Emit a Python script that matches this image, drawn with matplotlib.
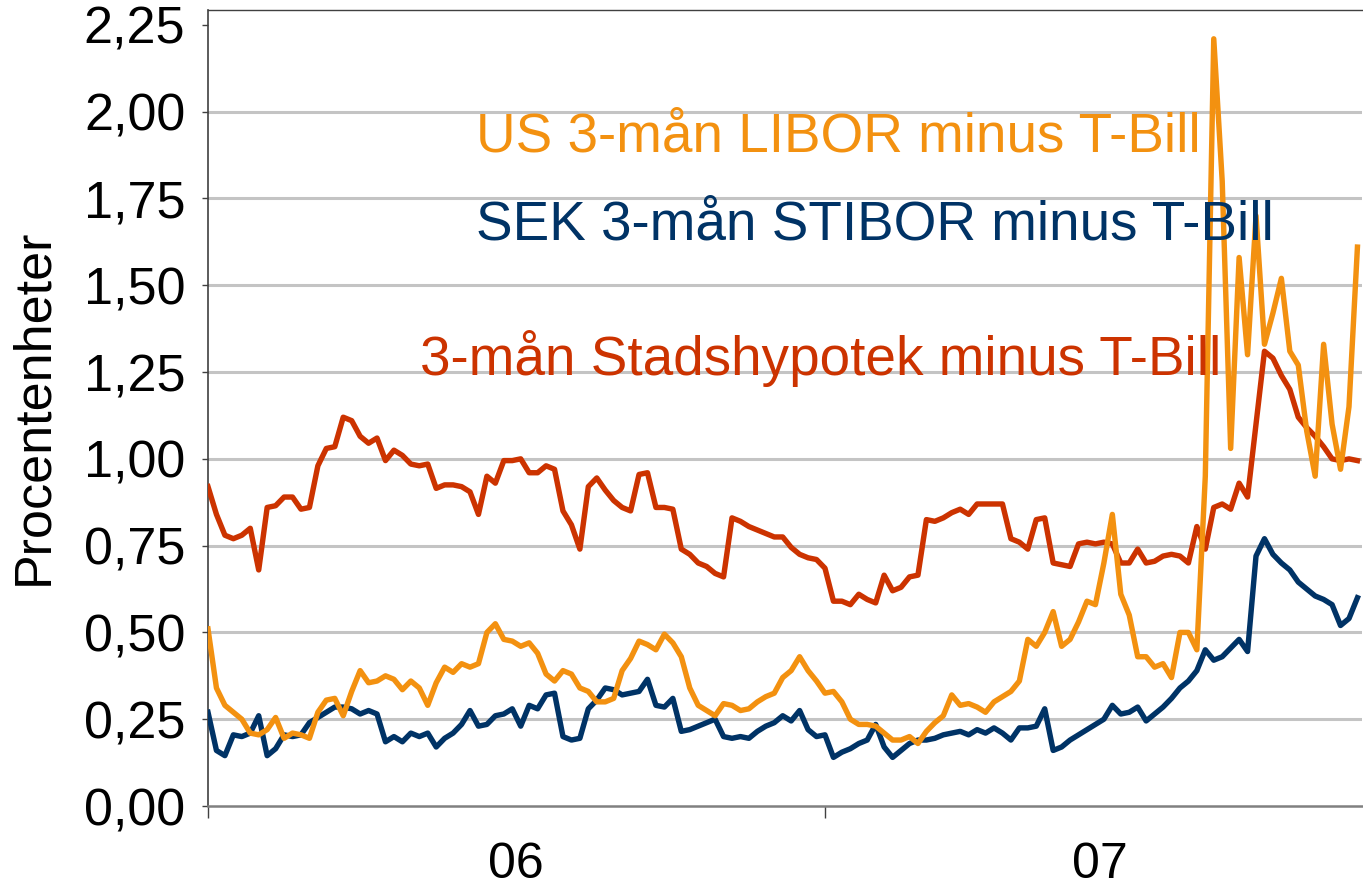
import numpy as np
import pandas as pd
import matplotlib
matplotlib.use('Agg')
import matplotlib.pyplot as plt
import matplotlib.dates as mdates

plt.rcParams['font.family'] = ['Liberation Sans', 'DejaVu Sans']

# spreads in procentenheter, one value every 5 days from 2006-01-02
stadshypotek = [
    0.92, 0.84, 0.78, 0.77, 0.78, 0.80, 0.68, 0.86, 0.865, 0.89,
    0.89, 0.855, 0.86, 0.98, 1.03, 1.035, 1.12, 1.11, 1.065, 1.045,
    1.06, 0.995, 1.025, 1.01, 0.985, 0.98, 0.985, 0.915, 0.925, 0.925,
    0.92, 0.905, 0.84, 0.95, 0.93, 0.995, 0.995, 1.0, 0.96, 0.96,
    0.98, 0.97, 0.85, 0.81, 0.74, 0.92, 0.945, 0.91, 0.88, 0.86,
    0.85, 0.955, 0.96, 0.86, 0.86, 0.855, 0.74, 0.725, 0.70, 0.69,
    0.67, 0.66, 0.83, 0.82, 0.805, 0.795, 0.785, 0.775, 0.775, 0.745,
    0.725, 0.715, 0.71, 0.685, 0.59, 0.59, 0.58, 0.61, 0.595, 0.585,
    0.665, 0.62, 0.63, 0.66, 0.665, 0.825, 0.82, 0.83, 0.845, 0.855,
    0.84, 0.87, 0.87, 0.87, 0.87, 0.77, 0.76, 0.74, 0.825, 0.83,
    0.70, 0.695, 0.69, 0.755, 0.76, 0.755, 0.76, 0.755, 0.70, 0.70,
    0.74, 0.70, 0.705, 0.72, 0.725, 0.72, 0.70, 0.805, 0.74, 0.86,
    0.87, 0.855, 0.93, 0.89, 1.10, 1.31, 1.29, 1.24, 1.20, 1.12,
    1.09, 1.065, 1.035, 1.00, 0.995, 1.0, 0.995,
]
stibor = [
    0.27, 0.16, 0.145, 0.205, 0.20, 0.21, 0.26, 0.145, 0.165, 0.205,
    0.20, 0.205, 0.24, 0.255, 0.27, 0.285, 0.285, 0.28, 0.265, 0.275,
    0.265, 0.185, 0.20, 0.185, 0.21, 0.20, 0.21, 0.17, 0.195, 0.21,
    0.235, 0.275, 0.23, 0.235, 0.26, 0.265, 0.28, 0.23, 0.29, 0.28,
    0.32, 0.325, 0.20, 0.19, 0.195, 0.28, 0.305, 0.34, 0.335, 0.32,
    0.325, 0.33, 0.365, 0.29, 0.285, 0.31, 0.215, 0.22, 0.23, 0.24,
    0.25, 0.20, 0.195, 0.20, 0.195, 0.215, 0.23, 0.24, 0.26, 0.245,
    0.275, 0.22, 0.20, 0.205, 0.14, 0.155, 0.165, 0.18, 0.19, 0.235,
    0.17, 0.14, 0.16, 0.18, 0.19, 0.19, 0.195, 0.205, 0.21, 0.215,
    0.205, 0.22, 0.21, 0.225, 0.21, 0.19, 0.225, 0.225, 0.23, 0.28,
    0.16, 0.17, 0.19, 0.205, 0.22, 0.235, 0.25, 0.29, 0.265, 0.27,
    0.285, 0.245, 0.265, 0.285, 0.31, 0.34, 0.36, 0.39, 0.45, 0.42,
    0.43, 0.455, 0.48, 0.445, 0.72, 0.77, 0.725, 0.70, 0.68, 0.645,
    0.625, 0.605, 0.595, 0.58, 0.52, 0.54, 0.60,
]
libor = [
    0.51, 0.34, 0.29, 0.27, 0.25, 0.21, 0.205, 0.22, 0.255, 0.195,
    0.21, 0.205, 0.195, 0.27, 0.305, 0.31, 0.26, 0.33, 0.39, 0.355,
    0.36, 0.375, 0.365, 0.335, 0.36, 0.34, 0.29, 0.355, 0.40, 0.385,
    0.41, 0.40, 0.41, 0.50, 0.525, 0.48, 0.475, 0.46, 0.47, 0.44,
    0.38, 0.36, 0.39, 0.38, 0.34, 0.33, 0.30, 0.30, 0.31, 0.39,
    0.425, 0.475, 0.465, 0.45, 0.495, 0.47, 0.43, 0.34, 0.29, 0.275,
    0.26, 0.295, 0.29, 0.275, 0.28, 0.30, 0.315, 0.325, 0.37, 0.39,
    0.43, 0.39, 0.36, 0.325, 0.33, 0.30, 0.25, 0.235, 0.235, 0.23,
    0.21, 0.19, 0.19, 0.20, 0.18, 0.215, 0.24, 0.26, 0.32, 0.29,
    0.295, 0.285, 0.27, 0.30, 0.315, 0.33, 0.36, 0.48, 0.46, 0.50,
    0.56, 0.46, 0.48, 0.53, 0.59, 0.58, 0.70, 0.84, 0.61, 0.55,
    0.43, 0.43, 0.40, 0.41, 0.37, 0.50, 0.50, 0.45, 0.95, 2.21,
    1.80, 1.03, 1.58, 1.30, 1.70, 1.33, 1.42, 1.52, 1.31, 1.27,
    1.08, 0.95, 1.33, 1.10, 0.97, 1.15, 1.61,
]
year_labels = ['06', '07']

ORANGE = '#F39110'
NAVY = '#003366'
RED = '#CC3300'

start = pd.Timestamp('2006-01-02')
dates = pd.date_range(start, periods=len(libor), freq='5D')

fig = plt.figure(figsize=(13.63, 8.88), dpi=100)
ax = fig.add_axes([208 / 1363, 82 / 888, (1362 - 208) / 1363, (806 - 10) / 888])

ax.plot(dates, stadshypotek, color=RED, lw=3.9, zorder=3)
ax.plot(dates, stibor, color=NAVY, lw=3.9, zorder=4)
ax.plot(dates, libor, color=ORANGE, lw=3.9, zorder=5)

ax.set_ylim(0, 2.293)
ax.set_xlim(start, start + pd.Timedelta(days=682.7))

yticks = np.arange(0, 2.26, 0.25)
ax.set_yticks(yticks)
ax.set_yticklabels([f'{v:.2f}'.replace('.', ',') for v in yticks])
for y in yticks[1:-1]:
    ax.axhline(y, color='#C4C4C4', lw=2.2, zorder=1)

x0 = mdates.date2num(start)
ax.set_xticks([x0, x0 + 365])
ax.set_xticklabels(['', ''])
ax.tick_params(axis='x', which='major', direction='out', length=8.6, width=1.0, color='#404040')
ax.tick_params(axis='y', direction='out', length=4.3, width=1.0, color='#404040', pad=12, labelsize=37.5)

# year labels sit in the middle of each year
for lab, day in zip(year_labels, [182.2, 527.7]):
    ax.text(x0 + day, 0, lab, transform=ax.get_xaxis_transform(), fontsize=36,
            ha='center', va='baseline')
for t in ax.texts:
    t.set_y(-72 / 796)

ax.spines['right'].set_visible(False)
ax.spines['left'].set_color('#404040')
ax.spines['left'].set_linewidth(1.2)
ax.spines['top'].set_color('#404040')
ax.spines['top'].set_linewidth(1.0)
ax.spines['bottom'].set_color('#808080')
ax.spines['bottom'].set_linewidth(1.8)

fig.text(476 / 1363, (888 - 152) / 888, 'US 3-mån LIBOR minus T-Bill', color=ORANGE,
         fontsize=39.5, ha='left', va='baseline', zorder=10)
fig.text(476 / 1363, (888 - 239) / 888, 'SEK 3-mån STIBOR minus T-Bill', color=NAVY,
         fontsize=39.5, ha='left', va='baseline', zorder=10)
fig.text(420 / 1363, (888 - 375) / 888, '3-mån Stadshypotek minus T-Bill', color=RED,
         fontsize=39.5, ha='left', va='baseline', zorder=10)

fig.text(34 / 1363, (888 - 407) / 888, 'Procentenheter', rotation=90, fontsize=37.5,
         ha='center', va='center')

fig.savefig('out.png', dpi=100)
